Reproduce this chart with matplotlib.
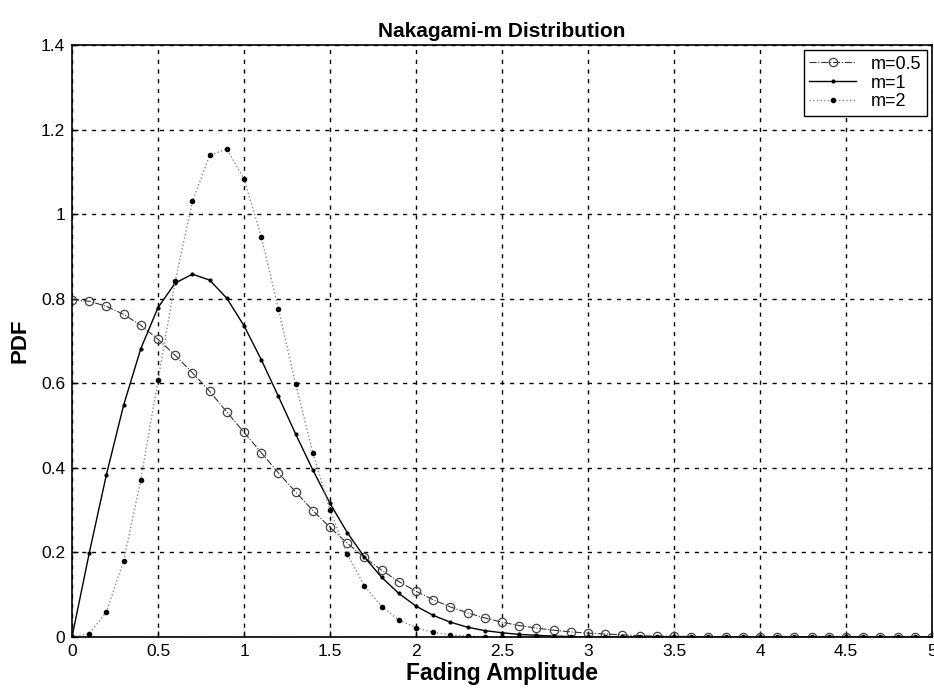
import matplotlib
matplotlib.use("Agg")
from matplotlib import pyplot as plt

# fading amplitude, step 0.1 from 0 to 5
x = [i / 10 for i in range(51)]

pdf_m05 = [0.798, 0.794, 0.782, 0.763, 0.737, 0.704, 0.666, 0.625, 0.581, 0.532,
           0.484, 0.436, 0.388, 0.343, 0.299, 0.259, 0.222, 0.188, 0.158, 0.131,
           0.108, 0.088, 0.071, 0.057, 0.045, 0.035, 0.027, 0.021, 0.016, 0.012,
           0.009, 0.007, 0.005, 0.003, 0.002, 0.002, 0.001, 0.001, 0.001, 0.0,
           0.0, 0.0, 0.0, 0.0, 0.0, 0.0, 0.0, 0.0, 0.0, 0.0, 0.0]

pdf_m1 = [0.0, 0.198, 0.384, 0.548, 0.682, 0.779, 0.837, 0.858, 0.844, 0.801,
          0.736, 0.656, 0.569, 0.480, 0.395, 0.316, 0.247, 0.189, 0.141, 0.103,
          0.073, 0.051, 0.035, 0.023, 0.015, 0.010, 0.006, 0.004, 0.002, 0.001,
          0.0, 0.0, 0.0, 0.0, 0.0, 0.0, 0.0, 0.0, 0.0, 0.0,
          0.0, 0.0, 0.0, 0.0, 0.0, 0.0, 0.0, 0.0, 0.0, 0.0, 0.0]

pdf_m2 = [0.0, 0.008, 0.059, 0.180, 0.372, 0.607, 0.841, 1.030, 1.139, 1.154,
          1.083, 0.947, 0.776, 0.598, 0.436, 0.300, 0.196, 0.121, 0.072, 0.040,
          0.022, 0.011, 0.005, 0.002, 0.001, 0.0, 0.0, 0.0, 0.0, 0.0,
          0.0, 0.0, 0.0, 0.0, 0.0, 0.0, 0.0, 0.0, 0.0, 0.0,
          0.0, 0.0, 0.0, 0.0, 0.0, 0.0, 0.0, 0.0, 0.0, 0.0, 0.0]

x_ticks = [0, 0.5, 1, 1.5, 2, 2.5, 3, 3.5, 4, 4.5, 5]
x_tick_labels = ["0", "0.5", "1", "1.5", "2", "2.5", "3", "3.5", "4", "4.5", "5"]
y_ticks = [0, 0.2, 0.4, 0.6, 0.8, 1.0, 1.2, 1.4]
y_tick_labels = ["0", "0.2", "0.4", "0.6", "0.8", "1", "1.2", "1.4"]

plt.rcParams["font.family"] = ["Liberation Sans", "DejaVu Sans"]

fig = plt.figure(figsize=(9.34, 6.95), dpi=100)
ax = fig.add_axes([0.0771, 0.0835, 0.9208, 0.8518])

ax.plot(x, pdf_m05, color="#333333", linestyle="-.", linewidth=0.8,
        marker="o", markersize=6, markerfacecolor="none", markeredgecolor="#444444",
        markeredgewidth=0.9, label="m=0.5")
ax.plot(x, pdf_m1, color="black", linestyle="-", linewidth=1.0,
        marker=".", markersize=4, label="m=1")
ax.plot(x, pdf_m2, color="#888888", linestyle=":", linewidth=1.0,
        marker=".", markersize=6, markerfacecolor="black", markeredgecolor="black",
        label="m=2")

ax.set_xlim(0, 5)
ax.set_ylim(0, 1.4)
ax.set_xticks(x_ticks)
ax.set_xticklabels(x_tick_labels, fontsize=12.5)
ax.set_yticks(y_ticks)
ax.set_yticklabels(y_tick_labels, fontsize=12.5)
ax.tick_params(direction="in", length=4, width=1)
ax.tick_params(axis="x", pad=5)
ax.tick_params(axis="y", pad=5)
ax.grid(True, color="black", linestyle=(0, (3, 4)), linewidth=1.0)

for s in ax.spines.values():
    s.set_linewidth(1.2)

ax.set_title("Nakagami-m Distribution", fontsize=15, fontweight="bold", pad=6)
ax.set_xlabel("Fading Amplitude", fontsize=16.5, fontweight="bold")
ax.set_ylabel("PDF", fontsize=16, fontweight="bold")
ax.xaxis.set_label_coords(0.5, -0.043)
ax.yaxis.set_label_coords(-0.048, 0.5)

leg = ax.legend(loc="upper right", fontsize=13, fancybox=False, framealpha=1,
                edgecolor="black", borderaxespad=0.3, handlelength=2.6,
                labelspacing=0.1, borderpad=0.3)
leg.get_frame().set_linewidth(1.0)

fig.savefig("out.png", dpi=100)
